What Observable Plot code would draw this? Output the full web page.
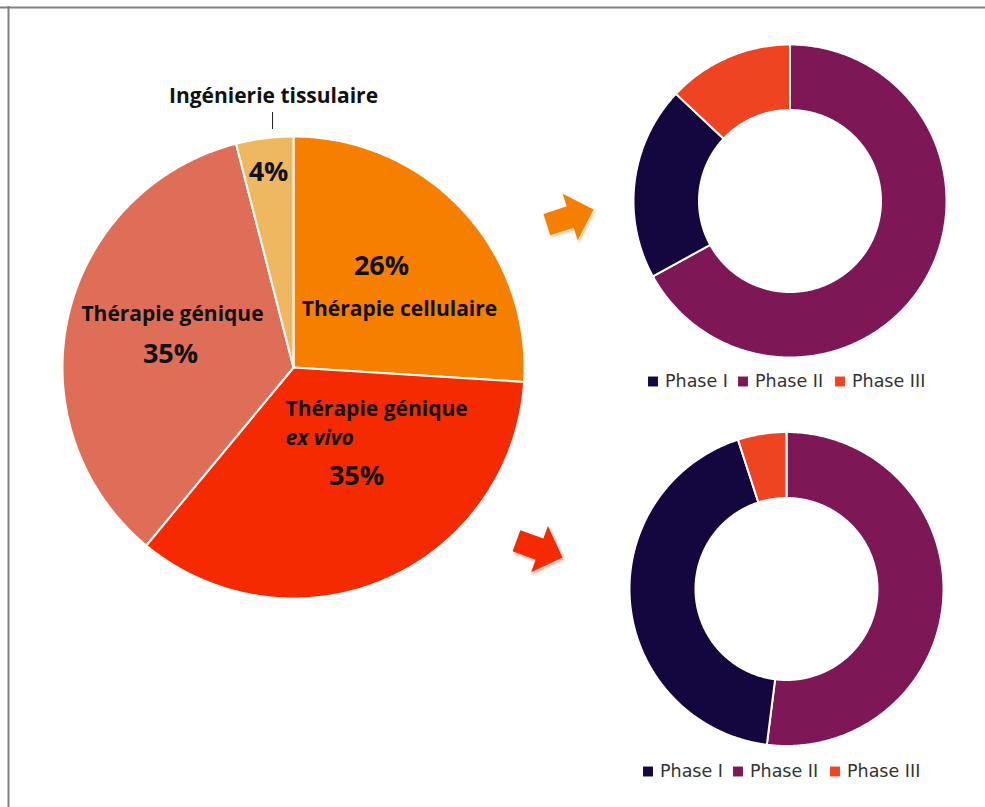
<!DOCTYPE html>
<html><head><meta charset="utf-8">
<script src="https://cdn.jsdelivr.net/npm/d3@7"></script>
<script src="https://cdn.jsdelivr.net/npm/@observablehq/plot@0.6"></script>
<style>html,body{margin:0;padding:0;background:#fff}</style>
</head><body><div id="chart"></div>
<script>
// ---- DATA ----
const pieCategories = ["Thérapie cellulaire", "Thérapie génique ex vivo", "Thérapie génique", "Ingénierie tissulaire"];
const pieValues = [26, 35, 35, 4];
const pieColors = ["#F77F00", "#F52A00", "#DF6E58", "#EDB860"];
const pieLabelLines = [["Thérapie cellulaire"], ["Thérapie génique", "ex vivo"], ["Thérapie génique"], ["Ingénierie tissulaire"]];

const phaseNames = ["Phase I", "Phase II", "Phase III"];
const phaseColors = ["#14063F", "#7E1755", "#EE4422"];
const donut1Values = [20, 67, 13];   // Phase I, II, III (upper donut)
const donut2Values = [43, 52, 5];    // Phase I, II, III (lower donut)
const donutDrawOrder = [1, 0, 2];    // clockwise from 12 o'clock: Phase II, Phase I, Phase III

// ---- LAYOUT ----
const W = 985, H = 807;
const geoPie = {cx: 293, cy: 367, r: 231};
const geoD1 = {cx: 789.5, cy: 200.5, r: 156.5, r0: 91};
const geoD2 = {cx: 786, cy: 588.5, r: 157, r0: 91};
const labelFont = "'Open Sans', Lato, sans-serif";
const legendFont = "'DejaVu Sans', sans-serif";

function arcPoints(cx, cy, r, a0, a1) {
  const n = Math.max(2, Math.ceil((a1 - a0) / (Math.PI / 360)));
  const pts = [];
  for (let i = 0; i <= n; i++) {
    const a = a0 + (a1 - a0) * i / n;
    pts.push({x: cx + r * Math.sin(a), y: cy - r * Math.cos(a)});
  }
  return pts;
}
function slices(values, colors, names, geo) {
  const arcs = d3.pie().sort(null).value(d => d.v)(values.map((v, i) => ({v, c: colors[i], n: names[i]})));
  return arcs.map(a => {
    let pts = arcPoints(geo.cx, geo.cy, geo.r, a.startAngle, a.endAngle);
    if (geo.r0) pts = pts.concat(arcPoints(geo.cx, geo.cy, geo.r0, a.startAngle, a.endAngle).reverse());
    else pts = [{x: geo.cx, y: geo.cy}, ...pts];
    return {name: a.data.n, color: a.data.c, pts};
  });
}

const pieSlices = slices(pieValues, pieColors, pieCategories, geoPie);
const d1Slices = slices(donutDrawOrder.map(i => donut1Values[i]), donutDrawOrder.map(i => phaseColors[i]), donutDrawOrder.map(i => phaseNames[i]), geoD1);
const d2Slices = slices(donutDrawOrder.map(i => donut2Values[i]), donutDrawOrder.map(i => phaseColors[i]), donutDrawOrder.map(i => phaseNames[i]), geoD2);

const sliceMarks = [...pieSlices, ...d1Slices, ...d2Slices].map(s =>
  Plot.line(s.pts, {x: "x", y: "y", fill: s.color, stroke: "#fff", strokeWidth: 2, curve: "linear-closed"}));

// pie labels (positions of name lines and percentage per slice)
const pieLabelPos = [
  {names: [[399, 309, "middle"]], pct: [381, 266]},
  {names: [[285, 409, "start"], [285, 438, "start"]], pct: [356, 476]},
  {names: [[172, 314, "middle"]], pct: [170, 354]},
  {names: [[273, 96, "middle"]], pct: [268, 172]}
];
const nameRows = [], pctRows = [];
pieLabelLines.forEach((lines, i) => {
  lines.forEach((t, j) => {
    const [x, y, anchor] = pieLabelPos[i].names[j];
    nameRows.push({text: t, x, y, anchor, italic: t === "ex vivo"});
  });
  pctRows.push({text: pieValues[i] + "%", x: pieLabelPos[i].pct[0], y: pieLabelPos[i].pct[1]});
});

// legends
const legendOffsets = [0, 90, 187];
const legendOrigins = [{x: 652.5, y: 381}, {x: 647.5, y: 771}];
const legendRows = [];
legendOrigins.forEach(o => phaseNames.forEach((n, i) => legendRows.push({x: o.x + legendOffsets[i], y: o.y, name: n, color: phaseColors[i]})));

// arrows (block arrow shape, unit length, tail at 0 tip at 1)
const arrowShape = [[0, -0.23], [0.5, -0.23], [0.5, -0.5], [1, 0], [0.5, 0.5], [0.5, 0.23], [0, 0.23]];
const arrowDefs = [
  {tipX: 593, tipY: 209, angle: -18, len: 49, color: "#F77F00"},
  {tipX: 562, tipY: 557, angle: 20, len: 49, color: "#F52A00"}
];
function arrowPts(a, dx = 0, dy = 0) {
  const t = a.angle * Math.PI / 180, c = Math.cos(t), s = Math.sin(t);
  return arrowShape.map(([u, v]) => {
    const px = (u - 1) * a.len, py = v * a.len;
    return {x: a.tipX + px * c - py * s + dx, y: a.tipY + px * s + py * c + dy};
  });
}
const arrowMarks = arrowDefs.flatMap(a => [
  Plot.line(arrowPts(a, 1.5, 2), {x: "x", y: "y", fill: a.color, fillOpacity: 0.18, stroke: a.color, strokeOpacity: 0.12, strokeWidth: 3, curve: "linear-closed"}),
  Plot.line(arrowPts(a), {x: "x", y: "y", fill: a.color, curve: "linear-closed"})
]);

const nameSize = 21, pctSize = 27;
const chart = Plot.plot({
  width: W, height: H, margin: 0,
  x: {domain: [0, W], range: [0, W], axis: null},
  y: {domain: [0, H], range: [0, H], axis: null},
  color: {type: "identity"},
  style: {background: "#fff", fontFamily: labelFont},
  marks: [
    Plot.ruleY([7], {x1: 0, x2: W, stroke: "#808080", strokeWidth: 2}),
    Plot.ruleX([8], {y1: 6, y2: H, stroke: "#808080", strokeWidth: 2}),
    ...sliceMarks,
    Plot.ruleX([272], {y1: 112, y2: 129, stroke: "#222", strokeWidth: 1}),
    Plot.text(nameRows.filter(d => !d.italic && d.anchor === "middle"), {x: "x", y: "y", text: "text", textAnchor: "middle", fontSize: nameSize, fontWeight: 700, fill: "#111"}),
    Plot.text(nameRows.filter(d => !d.italic && d.anchor === "start"), {x: "x", y: "y", text: "text", textAnchor: "start", fontSize: nameSize, fontWeight: 700, fill: "#111"}),
    Plot.text(nameRows.filter(d => d.italic), {x: "x", y: "y", text: "text", textAnchor: "start", fontSize: nameSize, fontWeight: 700, fontStyle: "italic", fill: "#111"}),
    Plot.text(pctRows, {x: "x", y: "y", text: "text", textAnchor: "middle", fontSize: pctSize, fontWeight: 700, fill: "#111"}),
    ...arrowMarks,
    Plot.dot(legendRows, {x: "x", y: "y", fill: "color", symbol: "square", r: 5.6}),
    Plot.text(legendRows, {x: d => d.x + 12, y: "y", text: "name", textAnchor: "start", fontSize: 17.5, fill: "#333", fontFamily: legendFont})
  ]
});
document.getElementById("chart").appendChild(chart);
</script>
</body></html>
